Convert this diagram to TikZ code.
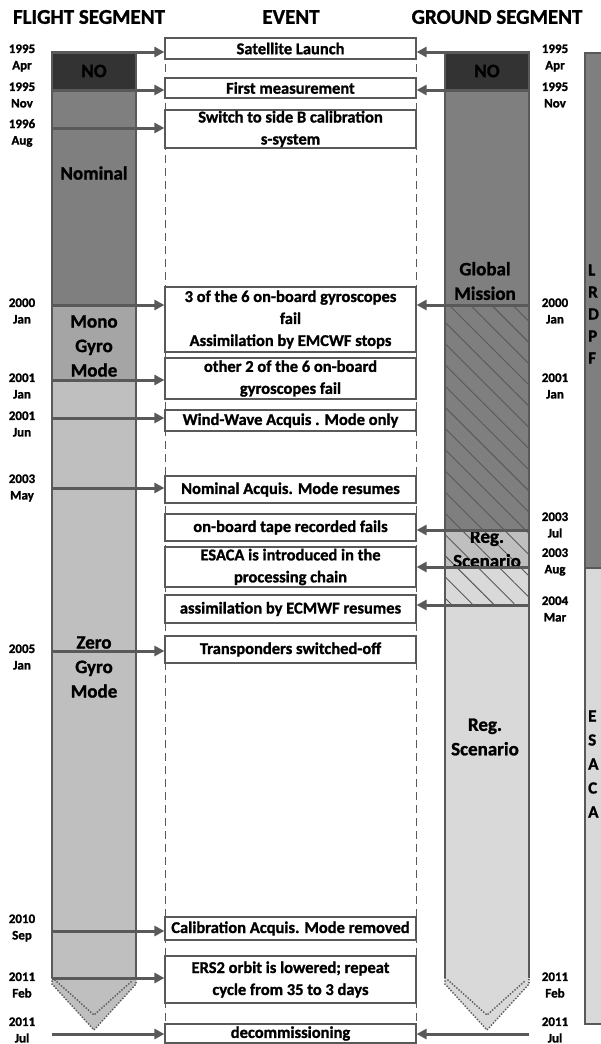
\documentclass[tikz,border=0pt]{standalone}
\usepackage{fontspec}
\setmainfont{Carlito}[BoldFeatures={FakeBold=1.2}]
\usetikzlibrary{arrows.meta,patterns.meta}
\definecolor{cdark}{HTML}{333333}
\definecolor{cmid}{HTML}{7F7F7F}
\definecolor{cmono}{HTML}{A5A5A5}
\definecolor{clight}{HTML}{BFBFBF}
\definecolor{cpale}{HTML}{D9D9D9}
\definecolor{cline}{HTML}{595959}
\begin{document}
\begin{tikzpicture}[x=1pt,y=-1pt,
 hdr/.style={font=\fontsize{21}{24}\selectfont\bfseries, inner sep=0},
 datelbl/.style={font=\fontsize{13}{16.5}\selectfont\bfseries, align=center, inner sep=0},
 evbox/.style={draw=cline, line width=1.2pt, fill=white, minimum width=251pt, inner sep=0, align=center, font=\fontsize{16.5}{22}\selectfont\bfseries},
 seglbl/.style={font=\fontsize{19}{24.5}\selectfont\bfseries, align=center, inner sep=0},
 letter/.style={font=\fontsize{17}{20}\selectfont\bfseries, inner sep=0, anchor=west},
 barline/.style={draw=cline, line width=2.5pt},
 arr/.style={draw=cline, line width=3pt, -{Triangle[length=10pt,width=10pt]}},
 hatch/.style={pattern={Lines[angle=-45,distance=15pt,line width=0.9pt]}, pattern color=cline},
 vdash/.style={draw=cline, line width=1pt, dash pattern=on 8pt off 5pt},
 dotline/.style={draw=cline, line width=2pt, line cap=round, dash pattern=on 0pt off 3pt},
]
\useasboundingbox (0,0) rectangle (601,1044);
\fill[white] (0,0) rectangle (601,1044);

% headers
\node[hdr] (hf) at (89,17) {FLIGHT SEGMENT};
\node[hdr] (he) at (291,17) {EVENT};
\node[hdr] (hg) at (497,17) {GROUND SEGMENT};

% event column dashed lines
\draw[vdash] (165,38) -- (165,1044);
\draw[vdash] (416,38) -- (416,1044);

% ---------- flight segment bar ----------
\fill[cdark] (52,52) rectangle (136,90);
\fill[cmid] (52,90) rectangle (136,305);
\fill[cmono] (52,305) rectangle (136,380);
\fill[clight] (52,380) rectangle (136,978);
\fill[clight] (52,978) -- (136,978) -- (136,984) -- (94,1030) -- (52,984) -- cycle;
\draw[barline] (52,978) -- (52,52) -- (136,52) -- (136,978);
\draw[barline] (52,90) -- (136,90);
\draw[barline] (52,305) -- (136,305);
\draw[barline] (52,380) -- (136,380);
\draw[dotline] (52,978) -- (52,984) -- (94,1030) -- (136,984) -- (136,978);
\draw[dotline] (55,980) -- (94,1015) -- (133,980);

\node[seglbl] (fno) at (94,71) {NO};
\node[seglbl] (fnom) at (94,173) {Nominal};
\node[seglbl] (fmono) at (94,346) {Mono\\Gyro\\Mode};
\node[seglbl] (fzero) at (94,667) {Zero\\Gyro\\Mode};

% ---------- ground segment bar ----------
\fill[cdark] (445,52) rectangle (529,90);
\fill[cmid] (445,90) rectangle (529,530);
\fill[hatch] (445,305) rectangle (529,530);
\fill[clight] (445,530) rectangle (529,567);
\fill[hatch] (445,530) rectangle (529,567);
\fill[cpale] (445,567) rectangle (529,605);
\fill[hatch] (445,567) rectangle (529,605);
\fill[cpale] (445,605) rectangle (529,978);
\fill[cpale] (445,978) -- (529,978) -- (529,984) -- (487,1030) -- (445,984) -- cycle;
\draw[barline] (445,978) -- (445,52) -- (529,52) -- (529,978);
\draw[barline] (445,90) -- (529,90);
\draw[barline] (445,305) -- (529,305);
\draw[barline] (445,530) -- (529,530);
\draw[barline] (445,567) -- (529,567);
\draw[barline] (445,605) -- (529,605);
\draw[dotline] (445,978) -- (445,984) -- (487,1030) -- (529,984) -- (529,978);
\draw[dotline] (448,980) -- (487,1015) -- (526,980);

\node[seglbl] (gno) at (487,71) {NO};
\node[seglbl] (gglob) at (485,281) {Global\\Mission};
\node[seglbl] (greg1) at (487,549) {Reg.\\Scenario};
\node[seglbl] (greg2) at (485,737) {Reg.\\Scenario};

% ---------- right bar (LRDPF / ESACA) ----------
\fill[cmid] (585,53) rectangle (603,568);
\fill[cpale] (585,568) rectangle (603,1024);
\draw[barline] (603,53) -- (585,53) -- (585,1024) -- (603,1024);
\draw[barline] (585,568) -- (603,568);
\node[letter] (l1) at (588,270) {L};
\node[letter] (l2) at (588,292) {R};
\node[letter] (l3) at (588,314) {D};
\node[letter] (l4) at (588,336) {P};
\node[letter] (l5) at (588,358) {F};
\node[letter] (s1) at (588,716) {E};
\node[letter] (s2) at (588,740) {S};
\node[letter] (s3) at (588,764) {A};
\node[letter] (s4) at (588,788) {C};
\node[letter] (s5) at (588,812) {A};

% ---------- event boxes ----------
\node[evbox, minimum height=21pt] (e1) at (290.5,48.5) {Satellite Launch};
\node[evbox, minimum height=20pt] (e2) at (290.5,88) {First measurement};
\node[evbox, minimum height=38pt] (e3) at (290.5,129) {Switch to side B calibration\\s-system};
\node[evbox, minimum height=65pt] (e4) at (290.5,319.5) {3 of the 6 on-board gyroscopes\\fail\\Assimilation by EMCWF stops};
\node[evbox, minimum height=41pt] (e5) at (290.5,378.5) {other 2 of the 6 on-board\\gyroscopes fail};
\node[evbox, minimum height=21pt] (e6) at (290.5,420.5) {Wind-Wave Acquis . Mode only};
\node[evbox, minimum height=27pt] (e7) at (290.5,489.5) {Nominal Acquis. Mode resumes};
\node[evbox, minimum height=27pt] (e8) at (290.5,527.5) {on-board tape recorded fails};
\node[evbox, minimum height=40pt] (e9) at (290.5,567) {ESACA is introduced in the\\processing chain};
\node[evbox, minimum height=28pt] (e10) at (290.5,609) {assimilation by ECMWF resumes};
\node[evbox, minimum height=27pt] (e11) at (290.5,649.5) {Transponders switched-off};
\node[evbox, minimum height=23pt] (e12) at (290.5,928.5) {Calibration Acquis. Mode removed};
\node[evbox, minimum height=47pt] (e13) at (290.5,979.5) {ERS2 orbit is lowered; repeat\\cycle from 35 to 3 days};
\node[evbox, minimum height=19pt] (e14) at (290.5,1033.5) {decommissioning};

% ---------- flight arrows ----------
\coordinate (f1) at (52,52);
\coordinate (f2) at (52,90);
\coordinate (f3) at (52,128);
\coordinate (f4) at (52,305);
\coordinate (f5) at (52,380);
\coordinate (f6) at (52,418);
\coordinate (f7) at (52,488);
\coordinate (f8) at (52,651);
\coordinate (f9) at (52,931);
\coordinate (f10) at (52,978);
\coordinate (f11) at (52,1034);
\draw[arr] (f1) -- (f1 -| e1.west);
\draw[arr] (f2) -- (f2 -| e2.west);
\draw[arr] (f3) -- (f3 -| e3.west);
\draw[arr] (f4) -- (f4 -| e4.west);
\draw[arr] (f5) -- (f5 -| e5.west);
\draw[arr] (f6) -- (f6 -| e6.west);
\draw[arr] (f7) -- (f7 -| e7.west);
\draw[arr] (f8) -- (f8 -| e11.west);
\draw[arr] (f9) -- (f9 -| e12.west);
\draw[arr] (f10) -- (f10 -| e13.west);
\draw[arr] (f11) -- (f11 -| e14.west);

% ---------- ground arrows ----------
\coordinate (g1) at (529,52);
\coordinate (g2) at (529,90);
\coordinate (g3) at (529,305);
\coordinate (g4) at (529,530);
\coordinate (g5) at (529,567);
\coordinate (g6) at (529,605);
\coordinate (g7) at (529,1034);
\draw[arr] (g1) -- (g1 -| e1.east);
\draw[arr] (g2) -- (g2 -| e2.east);
\draw[arr] (g3) -- (g3 -| e4.east);
\draw[arr] (g4) -- (g4 -| e8.east);
\draw[arr] (g5) -- (g5 -| e9.east);
\draw[arr] (g6) -- (g6 -| e10.east);
\draw[arr] (g7) -- (g7 -| e14.east);

% ---------- flight dates ----------
\node[datelbl] (fd1) at (22,58) {1995\\Apr};
\node[datelbl] (fd2) at (22,95) {1995\\Nov};
\node[datelbl] (fd3) at (22,133) {1996\\Aug};
\node[datelbl] (fd4) at (22,311) {2000\\Jan};
\node[datelbl] (fd5) at (22,386) {2001\\Jan};
\node[datelbl] (fd6) at (22,424) {2001\\Jun};
\node[datelbl] (fd7) at (22,488) {2003\\May};
\node[datelbl] (fd8) at (22,657) {2005\\Jan};
\node[datelbl] (fd9) at (22,928) {2010\\Sep};
\node[datelbl] (fd10) at (22,985) {2011\\Feb};
\node[datelbl] (fd11) at (22,1030) {2011\\Jul};

% ---------- ground dates ----------
\node[datelbl] (gd1) at (555,58) {1995\\Apr};
\node[datelbl] (gd2) at (555,95) {1995\\Nov};
\node[datelbl] (gd3) at (555,311) {2000\\Jan};
\node[datelbl] (gd4) at (555,386) {2001\\Jan};
\node[datelbl] (gd5) at (555,525) {2003\\Jul};
\node[datelbl] (gd6) at (555,562) {2003\\Aug};
\node[datelbl] (gd7) at (555,609) {2004\\Mar};
\node[datelbl] (gd8) at (555,985) {2011\\Feb};
\node[datelbl] (gd9) at (555,1030) {2011\\Jul};
\end{tikzpicture}
\end{document}
